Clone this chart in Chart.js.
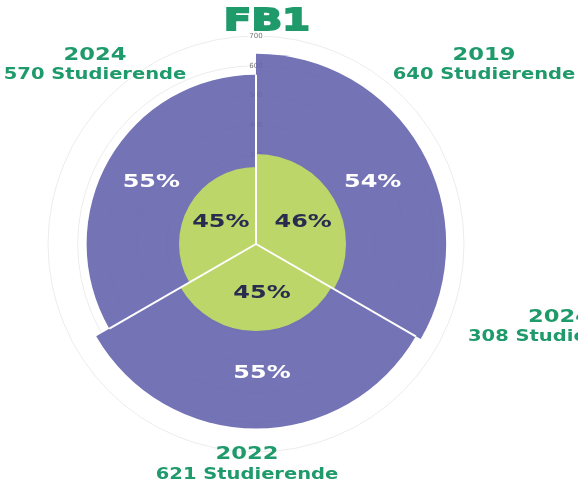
<!DOCTYPE html>
<html><head><meta charset="utf-8">
<script src="https://cdn.jsdelivr.net/npm/chart.js@4"></script>
<style>
html,body{margin:0;padding:0;background:#fff;overflow:hidden}
#wrap{position:relative;width:578px;height:488px}
canvas{display:block}
</style></head><body>
<div id="wrap"><canvas id="c" width="578" height="488"></canvas></div>
<script>
// ---- data ----
const chartTitle = 'FB1';
const years = ['2019', '2022', '2024'];
const students = [640, 621, 570];          // outer (purple) values
const innerValues = [303, 293, 259];       // inner (green) values read from radii
const outerShares = ['54%', '55%', '55%']; // labels in purple ring
const innerShares = ['46%', '45%', '45%']; // labels in green core
const unitLabel = 'Studierende';
const scaleMax = 700;
const scaleStep = 100;
const sideYear = '2024';
const sideStudents = 308;

const GREEN_TEXT = '#1f9a6b';
const DARK = '#2a2c4f';
const PURPLE = 'rgba(100,100,173,0.9)';
const LIME = '#bdd66a';

function wideText(ctx, text, x, baseY, size, sx, color, align) {
  ctx.save();
  ctx.font = 'bold ' + size + 'px "DejaVu Sans"';
  ctx.fillStyle = color;
  ctx.textBaseline = 'alphabetic';
  ctx.textAlign = align || 'center';
  ctx.translate(x, baseY);
  ctx.scale(sx, 1);
  ctx.fillText(text, 0, 0);
  ctx.restore();
}

const dividers = {
  id: 'dividers',
  afterDatasetsDraw(chart) {
    const arcs = chart.getDatasetMeta(1).data;
    const ctx = chart.ctx;
    ctx.save();
    ctx.strokeStyle = '#fff';
    ctx.lineWidth = 2;
    arcs.forEach((a, i) => {
      const prev = arcs[(i - 1 + arcs.length) % arcs.length];
      const r = Math.min(a.outerRadius, prev.outerRadius);
      ctx.beginPath();
      ctx.moveTo(a.x, a.y);
      ctx.lineTo(a.x + Math.cos(a.startAngle) * r, a.y + Math.sin(a.startAngle) * r);
      ctx.stroke();
    });
    ctx.restore();
  }
};

const labelsPlugin = {
  id: 'labelsPlugin',
  afterDraw(chart) {
    const ctx = chart.ctx;
    const scale = chart.scales.r;
    const outerArcs = chart.getDatasetMeta(1).data;
    const rOuter = scale.getDistanceFromCenterForValue(430);
    const rInner = scale.getDistanceFromCenterForValue(160);
    const shiftX = 6;
    outerArcs.forEach((a, i) => {
      const mid = (a.startAngle + a.endAngle) / 2;
      let x = a.x + Math.cos(mid) * rOuter + shiftX;
      let y = a.y + Math.sin(mid) * rOuter;
      wideText(ctx, outerShares[i], x, y + 6.5, 18, 1.33, '#fff', 'center');
      x = a.x + Math.cos(mid) * rInner + shiftX;
      y = a.y + Math.sin(mid) * rInner;
      wideText(ctx, innerShares[i], x, y + 6.5, 18, 1.33, DARK, 'center');
    });
    // title
    wideText(ctx, chartTitle, 267, 30, 31, 1.3, GREEN_TEXT, 'center');
    ctx.save();
    ctx.strokeStyle = GREEN_TEXT; ctx.lineWidth = 1.8;
    ctx.font = 'bold 31px "DejaVu Sans"'; ctx.textAlign = 'center';
    ctx.translate(267, 30); ctx.scale(1.3, 1); ctx.strokeText(chartTitle, 0, 0);
    ctx.restore();
    // year labels
    const pos = [
      {x: 484, y1: 60, y2: 79},
      {x: 247, y1: 459, y2: 479},
      {x: 95, y1: 60, y2: 79}
    ];
    years.forEach((yr, i) => {
      wideText(ctx, yr, pos[i].x, pos[i].y1, 17, 1.33, GREEN_TEXT, 'center');
      wideText(ctx, students[i] + ' ' + unitLabel, pos[i].x, pos[i].y2, 15, 1.3, GREEN_TEXT, 'center');
    });
    // neighbouring chart label (cut off at the edge)
    wideText(ctx, sideYear, 528, 322, 17, 1.33, GREEN_TEXT, 'left');
    wideText(ctx, sideStudents + ' ' + unitLabel, 468, 341, 15, 1.3, GREEN_TEXT, 'left');
  }
};

new Chart(document.getElementById('c'), {
  type: 'polarArea',
  data: {
    labels: years,
    datasets: [
      {label: 'inner', data: innerValues, backgroundColor: LIME, borderWidth: 0, order: 0},
      {label: 'students', data: students, backgroundColor: PURPLE, borderWidth: 0, order: 1}
    ]
  },
  options: {
    responsive: false,
    animation: false,
    events: [],
    layout: {padding: {left: 43, right: 109, top: 29, bottom: 29}},
    plugins: {legend: {display: false}, tooltip: {enabled: false}},
    scales: {
      r: {
        min: 0, max: scaleMax,
        startAngle: 0,
        ticks: {stepSize: scaleStep, font: {size: 7, family: 'DejaVu Sans'}, color: '#777',
                backdropColor: '#fff', backdropPadding: 1, z: 0},
        grid: {circular: true, color: '#ececec', lineWidth: 1},
        angleLines: {display: false},
        pointLabels: {display: false}
      }
    }
  },
  plugins: [dividers, labelsPlugin]
});
</script>
</body></html>
